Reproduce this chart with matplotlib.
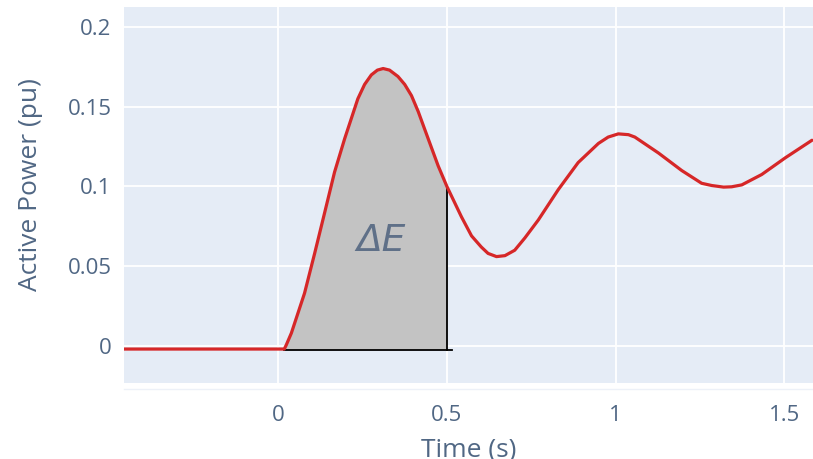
import matplotlib
matplotlib.use("Agg")
import matplotlib.pyplot as plt

# Data
time_s = [-0.457, -0.2, 0.0, 0.018, 0.024, 0.039, 0.078, 0.108, 0.137, 0.167, 0.197, 0.236,
          0.256, 0.276, 0.294, 0.311, 0.330, 0.355, 0.375, 0.395, 0.415, 0.434, 0.474, 0.5,
          0.543, 0.573, 0.602, 0.622, 0.647, 0.672, 0.701, 0.731, 0.771, 0.830, 0.889,
          0.949, 0.978, 1.008, 1.038, 1.057, 1.127, 1.196, 1.255, 1.285, 1.320, 1.344,
          1.374, 1.433, 1.503, 1.582]
power_pu = [-0.002, -0.002, -0.002, -0.002, 0.0006, 0.008, 0.033, 0.058, 0.083, 0.109, 0.130, 0.155,
            0.164, 0.170, 0.173, 0.174, 0.173, 0.169, 0.164, 0.157, 0.147, 0.136, 0.113, 0.100,
            0.081, 0.069, 0.062, 0.058, 0.056, 0.0566, 0.060, 0.0677, 0.079, 0.098, 0.115,
            0.127, 0.131, 0.133, 0.1325, 0.131, 0.121, 0.110, 0.102, 0.1006, 0.0996, 0.0998,
            0.101, 0.1075, 0.118, 0.129]

t_start = 0.018
t_end = 0.5
base_level = -0.0025
x_ticks = [0, 0.5, 1, 1.5]
x_tick_labels = ["0", "0.5", "1", "1.5"]
y_ticks = [0, 0.05, 0.1, 0.15, 0.2]
y_tick_labels = ["0", "0.05", "0.1", "0.15", "0.2"]
annotation = "ΔE"

plt.rcParams['font.family'] = ['Open Sans', 'DejaVu Sans']
text_color = '#506784'

fig = plt.figure(figsize=(8.13, 4.59), dpi=100)
ax = fig.add_axes([124/813, 1-383/459, 1-124/813, (383-7)/459])
ax.set_facecolor('#E5ECF6')

# shaded area
fx = [t for t in time_s if t_start <= t <= t_end]
fy = [p for t, p in zip(time_s, power_pu) if t_start <= t <= t_end]
ax.fill_between(fx, [base_level]*len(fx), fy, color='#c3c3c3', lw=0, zorder=2)
ax.plot([t_start, t_end + 0.015], [base_level, base_level], color='black', lw=1.3, zorder=3)
ax.plot([t_end, t_end], [base_level, power_pu[time_s.index(t_end)]], color='black', lw=1.3, zorder=3)

ax.plot(time_s, power_pu, color='#d62728', lw=2.3, zorder=4,
        solid_joinstyle='round', solid_capstyle='round')

ax.text(0.306, 0.066, annotation, style='italic', fontsize=27, color='#5f7088',
        ha='center', va='center', zorder=5, family=['DejaVu Sans'])

ax.set_xlim(-0.457, 1.585)
ax.set_ylim(-0.0233, 0.2126)
ax.set_xticks(x_ticks, x_tick_labels)
ax.set_yticks(y_ticks, y_tick_labels)
ax.grid(True, color='white', lw=1.3, zorder=1)
ax.set_axisbelow(True)
for s in ['top', 'right', 'left']:
    ax.spines[s].set_visible(False)
ax.spines['bottom'].set_position(('outward', 4))
ax.spines['bottom'].set_color('#EDF1F8')
ax.spines['bottom'].set_linewidth(1.0)
ax.tick_params(length=0, colors=text_color, labelsize=16, pad=9)
ax.tick_params(axis='x', pad=12)
ax.set_xlabel("Time (s)", fontsize=19, color=text_color, labelpad=8)
ax.set_ylabel("Active Power (pu)", fontsize=19, color=text_color)
ax.yaxis.set_label_coords(-0.118, 0.527)

fig.savefig("out.png", dpi=100)
